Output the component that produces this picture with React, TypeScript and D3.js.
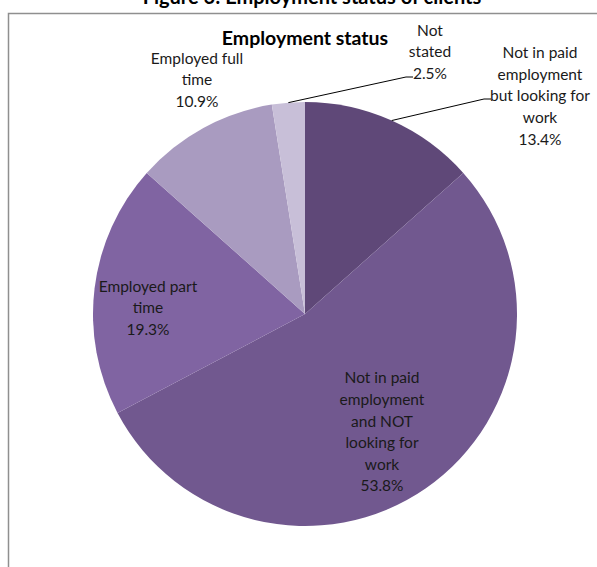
import React from "react";
import * as d3 from "d3";

const categories = [
  "Not in paid employment but looking for work",
  "Not in paid employment and NOT looking for work",
  "Employed part time",
  "Employed full time",
  "Not stated",
];
const values = [13.4, 53.8, 19.3, 10.9, 2.5];
const labelLines = [
  ["Not in paid", "employment", "but looking for", "work"],
  ["Not in paid", "employment", "and NOT", "looking for", "work"],
  ["Employed part", "time"],
  ["Employed full", "time"],
  ["Not", "stated"],
];
const colors = ["#5f4878", "#71588f", "#8064a2", "#a99bc0", "#c8bfd8"];

// layout: label block centres, and leader-line elbows (null = inside label)
const labelPos: [number, number][] = [
  [540, 96],
  [382, 432],
  [148, 308],
  [197, 80],
  [430, 52],
];
const leaderElbow: ([number, number] | null)[] = [
  [484, 99],
  null,
  null,
  null,
  [406, 77],
];

const W = 597;
const H = 567;
const cx = 305;
const cy = 314;
const R = 212;
const FONT = "Lato, 'Open Sans', sans-serif";
const LH = 21.6;

export default function App() {
  const pie = d3.pie<number>().sort(null).value((d) => d)(values);
  const arc = d3.arc<d3.PieArcDatum<number>>().innerRadius(0).outerRadius(R);
  return (
    <svg
      width={W}
      height={H}
      style={{ position: "absolute", left: 0, top: 0, display: "block", background: "#fff" }}
    >
      <text
        x={312}
        y={4}
        textAnchor="middle"
        fontFamily={FONT}
        fontWeight="bold"
        fontSize={20}
        fill="#000"
      >
        Figure 6: Employment status of clients
      </text>
      <rect x={0} y={8} width={W} height={5} fill="#fff" />
      <path d={`M8.5,${H} L8.5,13.5 L${W},13.5`} fill="none" stroke="#8f8f8f" strokeWidth={1.5} />
      <text
        x={305}
        y={45}
        textAnchor="middle"
        fontFamily={FONT}
        fontWeight="bold"
        fontSize={19.5}
        fill="#000"
      >
        Employment status
      </text>
      <g transform={`translate(${cx},${cy})`}>
        {pie.map((p, i) => (
          <path key={i} d={arc(p) || ""} fill={colors[i]} />
        ))}
      </g>
      {pie.map((p, i) => {
        const el = leaderElbow[i];
        if (!el) return null;
        const a = (p.startAngle + p.endAngle) / 2;
        const sx = cx + R * Math.sin(a);
        const sy = cy - R * Math.cos(a);
        const ex = el[0] + 7;
        return (
          <polyline
            key={"l" + i}
            points={`${sx},${sy} ${el[0]},${el[1]} ${ex},${el[1]}`}
            fill="none"
            stroke="#000"
            strokeWidth={1}
          />
        );
      })}
      {labelPos.map((pos, i) => {
        const lines = [...labelLines[i], `${values[i].toFixed(1)}%`];
        const n = lines.length;
        const y0 = pos[1] - ((n - 1) * LH) / 2;
        return (
          <text
            key={"t" + i}
            textAnchor="middle"
            fontFamily={FONT}
            fontSize={15.5}
            fill="#1a1a1a"
          >
            {lines.map((s, j) => (
              <tspan key={j} x={pos[0]} y={y0 + j * LH} dy="0.35em">
                {s}
              </tspan>
            ))}
          </text>
        );
      })}
    </svg>
  );
}
